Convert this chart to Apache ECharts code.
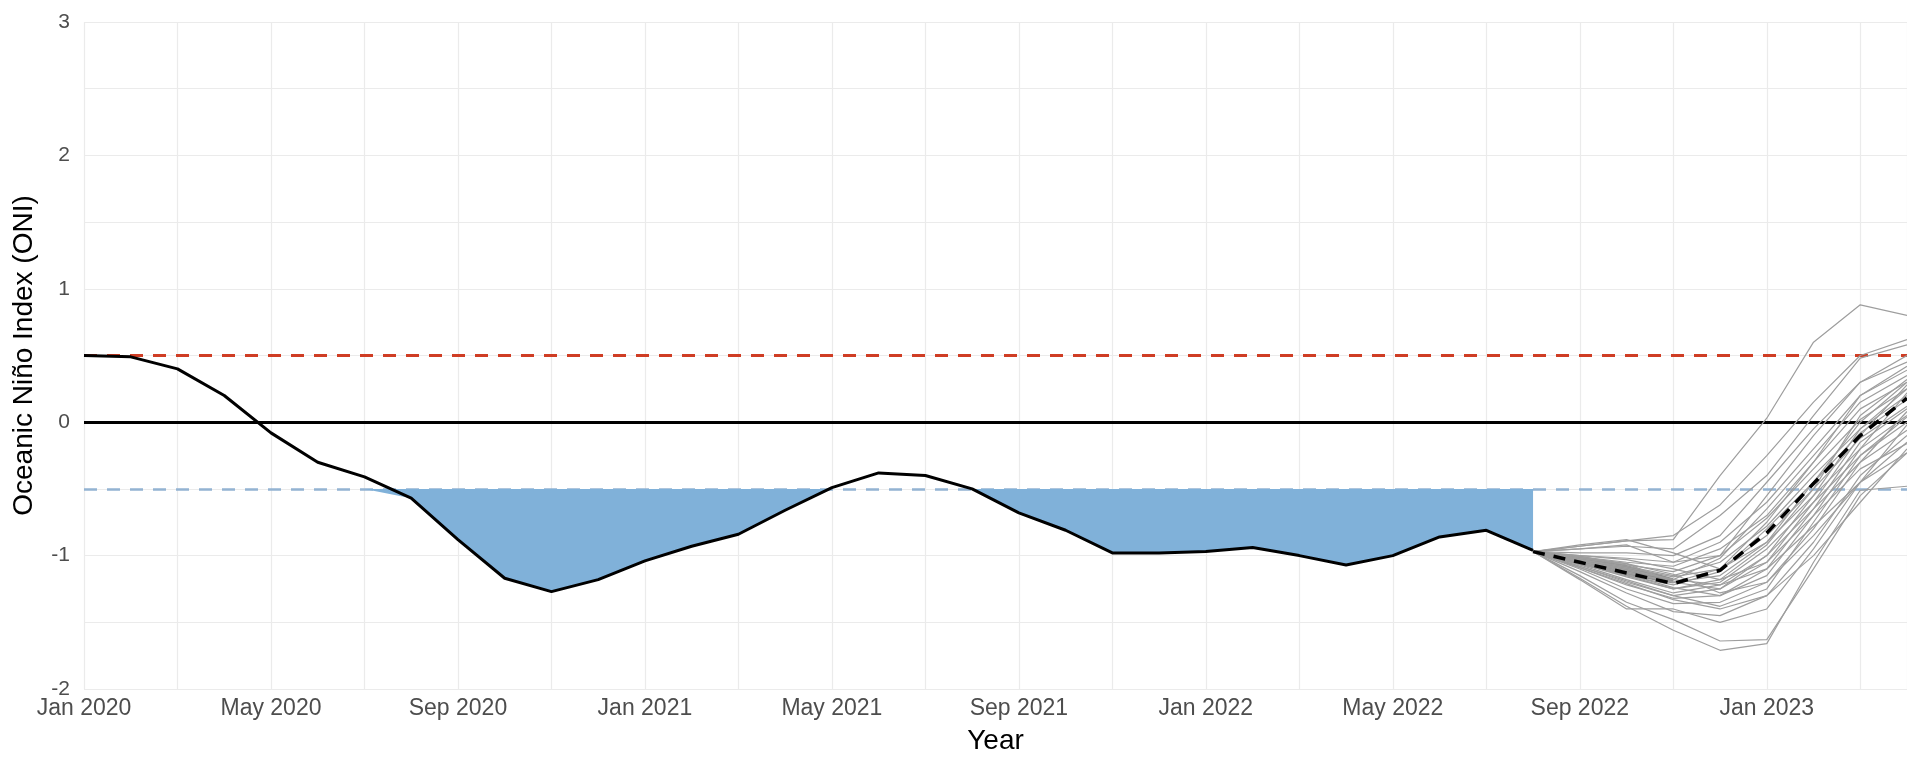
<!DOCTYPE html>
<html>
<head>
<meta charset="utf-8">
<title>Oceanic Niño Index</title>
<script src="https://cdn.jsdelivr.net/npm/echarts@6/dist/echarts.min.js"></script>
<style>
    html, body { margin: 0; padding: 0; background: #fff; }
    #chart { width: 1907px; height: 760px; }
</style>
</head>
<body>
<div id="chart"></div>
<script>
// x is a month index: 0 = Jan 2020
var xTickLabels = ['Jan 2020', 'May 2020', 'Sep 2020', 'Jan 2021', 'May 2021', 'Sep 2021',
    'Jan 2022', 'May 2022', 'Sep 2022', 'Jan 2023'];
var xTickStep = 4;
var yTickLabels = ['-2', '-1', '0', '1', '2', '3'];

// observed ONI, Jan 2020 .. Aug 2022
var oni = [0.50, 0.49, 0.40, 0.20, -0.08, -0.30, -0.41, -0.57, -0.88, -1.17, -1.27, -1.18,
    -1.04, -0.93, -0.84, -0.66, -0.49, -0.38, -0.40, -0.50, -0.68, -0.81, -0.98, -0.98,
    -0.97, -0.94, -1.00, -1.07, -1.00, -0.86, -0.81, -0.96];

var elNino = 0.5;
var laNina = -0.5;

// forecast, Aug 2022 .. Apr 2023
var forecastMonths = [31, 32, 33, 34, 35, 36, 37, 38, 39];
var ensemble = [
    [-0.97, -0.93, -0.89, -0.88, -0.40, 0.03, 0.60, 0.88, 0.80],
    [-0.97, -0.93, -0.89, -0.85, -0.62, -0.25, 0.15, 0.50, 0.62],
    [-0.97, -0.95, -0.93, -0.95, -0.70, -0.40, 0.05, 0.48, 0.58],
    [-0.97, -0.98, -0.98, -1.00, -0.85, -0.45, -0.05, 0.30, 0.45],
    [-0.97, -1.00, -1.02, -1.05, -0.90, -0.60, -0.20, 0.20, 0.39],
    [-0.97, -1.01, -1.05, -1.08, -0.95, -0.70, -0.30, 0.10, 0.30],
    [-0.97, -1.02, -1.07, -1.12, -1.00, -0.72, -0.35, 0.02, 0.25],
    [-0.97, -1.03, -1.08, -1.15, -1.05, -0.78, -0.40, -0.05, 0.20],
    [-0.97, -1.04, -1.10, -1.18, -1.02, -0.65, -0.25, 0.15, 0.35],
    [-0.97, -1.04, -1.12, -1.20, -1.10, -0.85, -0.50, -0.12, 0.12],
    [-0.97, -1.05, -1.13, -1.20, -1.15, -0.90, -0.55, -0.20, 0.05],
    [-0.97, -1.06, -1.15, -1.22, -1.12, -0.80, -0.45, -0.08, 0.17],
    [-0.97, -1.06, -1.16, -1.25, -1.20, -0.95, -0.60, -0.25, 0.00],
    [-0.97, -1.07, -1.18, -1.28, -1.22, -1.00, -0.65, -0.30, -0.06],
    [-0.97, -1.08, -1.20, -1.30, -1.25, -1.05, -0.70, -0.35, -0.16],
    [-0.97, -1.09, -1.22, -1.32, -1.30, -1.10, -0.78, -0.45, -0.23],
    [-0.97, -1.10, -1.25, -1.36, -1.35, -1.20, -0.85, -0.45, -0.02],
    [-0.97, -1.12, -1.28, -1.42, -1.45, -1.30, -0.90, -0.40, -0.10],
    [-0.97, -1.15, -1.35, -1.48, -1.64, -1.63, -1.10, -0.55, -0.23],
    [-0.97, -1.17, -1.38, -1.56, -1.71, -1.66, -1.05, -0.51, -0.48],
    [-0.97, -1.18, -1.40, -1.40, -1.50, -1.40, -0.95, -0.45, -0.15],
    [-0.97, -0.92, -0.88, -0.98, -1.10, -0.90, -0.45, 0.00, 0.30],
    [-0.97, -0.95, -0.92, -1.05, -1.00, -0.55, -0.10, 0.30, 0.50],
    [-0.97, -1.00, -1.03, -1.10, -1.18, -1.05, -0.60, -0.10, 0.28],
    [-0.97, -1.02, -1.06, -1.14, -1.28, -1.20, -0.80, -0.30, 0.08],
    [-0.97, -1.05, -1.14, -1.24, -1.30, -1.15, -0.70, -0.20, 0.22],
    [-0.97, -1.08, -1.19, -1.30, -1.38, -1.25, -0.75, -0.25, 0.04],
    [-0.97, -1.03, -1.09, -1.16, -1.10, -0.75, -0.30, 0.20, 0.42],
    [-0.97, -1.06, -1.15, -1.25, -1.18, -0.92, -0.50, 0.05, 0.32],
    [-0.97, -1.09, -1.21, -1.33, -1.40, -1.30, -1.00, -0.60, -0.20],
    [-0.97, -1.01, -1.06, -1.20, -1.25, -1.00, -0.55, -0.05, 0.25],
    [-0.97, -1.04, -1.11, -1.18, -1.22, -1.10, -0.65, -0.15, 0.10]
];
var ensembleMean = [-0.97, -1.05, -1.13, -1.21, -1.11, -0.83, -0.46, -0.10, 0.18];
// darker band hugging the mean at the start of the forecast
var ribbonMonths = [31, 32, 33, 34];
var ribbonLow = [-0.97, -1.07, -1.15, -1.21];
var ribbonHigh = [-0.97, -1.00, -1.07, -1.17];

var chart = echarts.init(document.getElementById('chart'));

// polygon between an upper and a lower edge, drawn once through the axes
function bandItem(xs, upper, lower, color) {
    return function (params, api) {
        if (params.dataIndex !== 0) return null;
        var pts = [];
        for (var i = 0; i < xs.length; i++) pts.push(api.coord([xs[i], upper[i]]));
        for (var j = xs.length - 1; j >= 0; j--) pts.push(api.coord([xs[j], lower[j]]));
        return { type: 'polygon', shape: { points: pts }, style: { fill: color } };
    };
}

var oniMonths = oni.map(function (v, i) { return i; });
var ninaLow = oni.map(function (v) { return Math.min(v, laNina); });
var ninaTop = oni.map(function () { return laNina; });

var series = [];

// reference lines
series.push({
    type: 'line',
    data: [],
    silent: true,
    z: 1,
    markLine: {
        silent: true,
        symbol: 'none',
        z: 1,
        label: { show: false },
        animation: false,
        data: [
            { yAxis: elNino, lineStyle: { color: '#cf3d24', type: [13, 10], width: 3 } },
            { yAxis: laNina, lineStyle: { color: '#93b3d2', type: [13, 10], width: 2.5 } },
            { yAxis: 0, lineStyle: { color: '#000', type: 'solid', width: 2.8 } }
        ]
    }
});

// la nina shading between the line and -0.5
series.push({
    type: 'custom',
    silent: true,
    z: 2,
    renderItem: bandItem(oniMonths, ninaTop, ninaLow, '#80b1d9'),
    data: ninaLow.map(function (v, i) { return [i, v]; })
});

// ensemble members
ensemble.forEach(function (member) {
    series.push({
        type: 'line',
        symbol: 'none',
        silent: true,
        z: 3,
        lineStyle: { color: '#9e9e9e', width: 1.2 },
        data: member.map(function (v, i) { return [forecastMonths[i], v]; })
    });
});

series.push({
    type: 'custom',
    silent: true,
    z: 3,
    renderItem: bandItem(ribbonMonths, ribbonHigh, ribbonLow, 'rgba(130,130,130,0.9)'),
    data: ribbonLow.map(function (v, i) { return [ribbonMonths[i], v]; })
});

// observed
series.push({
    type: 'line',
    symbol: 'none',
    silent: true,
    z: 4,
    lineStyle: { color: '#000', width: 3 },
    data: oni.map(function (v, i) { return [i, v]; })
});

// ensemble mean
series.push({
    type: 'line',
    symbol: 'none',
    silent: true,
    z: 5,
    lineStyle: { color: '#000', width: 3.5, type: [12, 9] },
    data: ensembleMean.map(function (v, i) { return [forecastMonths[i], v]; })
});

option = {
    animation: false,
    backgroundColor: '#fff',
    textStyle: { fontFamily: 'Liberation Sans, Arial, sans-serif' },
    grid: {
        left: 84,
        right: 0,
        top: 22,
        bottom: 71
    },
    xAxis: {
        type: 'value',
        min: 0,
        max: 39,
        interval: 2,
        name: 'Year',
        nameLocation: 'middle',
        nameGap: 38,
        nameTextStyle: { color: '#000', fontSize: 28 },
        axisLine: { show: false },
        axisTick: { show: false },
        axisLabel: {
            color: '#4d4d4d',
            fontSize: 23,
            margin: 8,
            showMaxLabel: false,
            formatter: function (v) {
                return v % xTickStep === 0 ? xTickLabels[v / xTickStep] : '';
            }
        },
        splitLine: { show: true, lineStyle: { color: '#ebebeb', width: 1.2 } }
    },
    yAxis: {
        type: 'value',
        min: -2,
        max: 3,
        interval: 0.5,
        name: 'Oceanic Niño Index (ONI)',
        nameLocation: 'middle',
        nameGap: 46,
        nameTextStyle: { color: '#000', fontSize: 28 },
        axisLine: { show: false },
        axisTick: { show: false },
        axisLabel: {
            color: '#4d4d4d',
            fontSize: 21,
            margin: 14,
            formatter: function (v) {
                return v % 1 === 0 ? yTickLabels[v + 2] : '';
            }
        },
        splitLine: { show: true, lineStyle: { color: '#ebebeb', width: 1.2 } }
    },
    series: series
};

chart.setOption(option);
</script>
</body>
</html>
